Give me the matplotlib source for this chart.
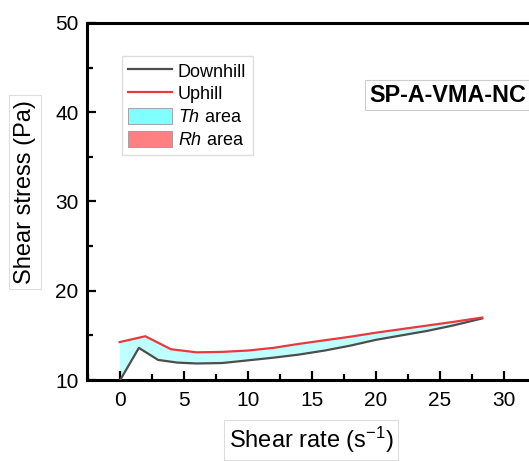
import matplotlib
matplotlib.use("Agg")
import matplotlib.pyplot as plt
from matplotlib.patches import Patch
from matplotlib.lines import Line2D
from matplotlib.ticker import MultipleLocator

plt.rcParams["font.family"] = ["Liberation Sans", "DejaVu Sans"]
plt.rcParams["mathtext.fontset"] = "custom"
plt.rcParams["mathtext.rm"] = "Liberation Sans"
plt.rcParams["mathtext.it"] = "Liberation Sans:italic"

# Uphill curve (shear rate increasing)
up_rate = [0, 2, 4, 6, 8, 10, 12, 14, 16, 18, 20, 22, 24, 26, 28.3]
up_stress = [14.25, 14.9, 13.45, 13.1, 13.15, 13.3, 13.6, 14.05, 14.45, 14.85,
             15.3, 15.7, 16.1, 16.5, 17.0]

# Downhill curve (shear rate decreasing)
down_rate = [0, 1.5, 3, 4.5, 6, 8, 10, 12, 14, 16, 18, 20, 22, 24, 26, 28.3]
down_stress = [9.9, 13.6, 12.25, 11.95, 11.85, 11.9, 12.2, 12.5, 12.85, 13.3,
               13.85, 14.5, 15.0, 15.5, 16.1, 16.9]

sample_name = "SP-A-VMA-NC"

fig = plt.figure(figsize=(5.29, 4.61), dpi=100)
ax = fig.add_axes([87 / 529, 81 / 461, 449 / 529, 357 / 461])

# Th area: region enclosed between the two curves
ax.fill(up_rate + down_rate[::-1], up_stress + down_stress[::-1],
        color="#80FFFF", alpha=0.5, lw=0, zorder=1)

ax.plot(down_rate, down_stress, color="#4D4D4D", lw=1.6, zorder=3)
ax.plot(up_rate, up_stress, color="#E8393E", lw=1.6, zorder=3)

ax.set_xlim(-2.55, 32.5)
ax.set_ylim(10, 50)
ax.xaxis.set_major_locator(MultipleLocator(5))
ax.xaxis.set_minor_locator(MultipleLocator(2.5))
ax.yaxis.set_major_locator(MultipleLocator(10))
ax.yaxis.set_minor_locator(MultipleLocator(5))
ax.tick_params(which="both", direction="in", top=False, right=False,
               width=1.6, labelsize=15)
ax.tick_params(which="major", length=6.5)
ax.tick_params(which="minor", length=4)
ax.tick_params(axis="x", pad=8)
ax.tick_params(axis="y", pad=6)
for s in ax.spines.values():
    s.set_linewidth(2.2)

box = dict(boxstyle="square,pad=0.2", fc="white", ec="#DDDDDD", lw=0.8)
ax.set_xlabel("Shear rate (s$^{-1}$)", fontsize=17, bbox=box)
ax.set_ylabel("Shear stress (Pa)", fontsize=17, bbox=box)
ax.xaxis.label.set_va("center")
ax.yaxis.label.set_va("center")
ax.xaxis.set_label_coords(0.499, -0.168)
ax.yaxis.set_label_coords(-0.138, 0.527)

ax.text(0.628, 0.797, sample_name, transform=ax.transAxes, fontsize=16.8,
        fontweight="bold", ha="left", va="center",
        bbox=dict(boxstyle="square,pad=0.15", fc="white", ec="#CCCCCC", lw=0.8))

handles = [
    Line2D([], [], color="#4D4D4D", lw=1.6),
    Line2D([], [], color="#E8393E", lw=1.6),
    Patch(facecolor="#80FFFF", edgecolor="#999999", lw=0.6),
    Patch(facecolor="#FF8080", edgecolor="#999999", lw=0.6),
]
labels = ["Downhill", "Uphill", "$\\it{Th}$ area", "$\\it{Rh}$ area"]
ax.legend(handles, labels, loc="upper left",
          bbox_to_anchor=(122 / 529, 1 - 56 / 461), bbox_transform=fig.transFigure,
          fontsize=13, frameon=True, fancybox=False, edgecolor="#DDDDDD",
          framealpha=1, borderpad=0.35, labelspacing=0.25, handlelength=2.4,
          handleheight=1.0, handletextpad=0.35, borderaxespad=0)

fig.savefig("out.png", dpi=100)
